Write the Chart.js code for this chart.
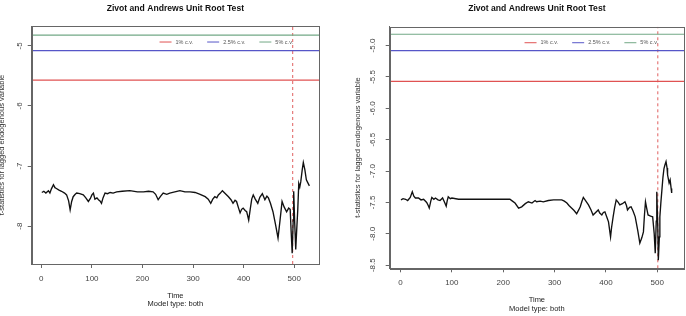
<!DOCTYPE html>
<html>
<head>
<meta charset="utf-8">
<script src="https://cdn.jsdelivr.net/npm/chart.js@4.4.1/dist/chart.umd.min.js"></script>
<style>
  html, body { margin: 0; padding: 0; background: #fff; }
  .panel { position: absolute; top: 0; width: 343px; height: 316px; }
</style>
</head>
<body>
<div class="panel" style="left:0"><canvas id="chartLeft" width="343" height="316"></canvas></div>
<div class="panel" style="left:343px"><canvas id="chartRight" width="343" height="316"></canvas></div>
<script>
// t-statistics
const leftTime = [1, 5, 9, 14, 17, 20, 24, 27, 29, 35, 40, 46, 50, 54, 57, 60, 63, 67, 70, 76,
  83, 88, 93, 97, 100, 103, 106, 110, 113, 116, 119, 122, 126, 131, 136, 142, 149, 160, 175, 190,
  202, 212, 221, 226, 231, 236, 241, 248, 254, 264, 274, 284, 294, 304, 314, 324, 330, 335, 339, 343,
  347, 350, 354, 358, 364, 370, 375, 379, 383, 386, 390, 393, 396, 399, 403, 406, 410, 413, 416, 419,
  423, 428, 432, 437, 440, 442, 446, 449, 453, 458, 463, 468, 472, 476, 480, 485, 489, 492, 494, 496,
  498, 499, 501, 503, 505, 507, 509, 511, 513, 516, 518, 521, 524, 527, 530];
const leftStat = [-7.44, -7.42, -7.45, -7.41, -7.45, -7.38, -7.31, -7.36, -7.37, -7.40, -7.42, -7.45, -7.48, -7.58, -7.73, -7.59, -7.51, -7.47, -7.45, -7.46,
  -7.48, -7.53, -7.59, -7.54, -7.48, -7.45, -7.55, -7.53, -7.56, -7.58, -7.62, -7.53, -7.45, -7.46, -7.44, -7.45, -7.43, -7.42, -7.41, -7.43,
  -7.43, -7.42, -7.43, -7.47, -7.56, -7.50, -7.45, -7.47, -7.45, -7.43, -7.41, -7.43, -7.43, -7.44, -7.47, -7.51, -7.55, -7.62, -7.55, -7.51,
  -7.53, -7.48, -7.45, -7.41, -7.46, -7.51, -7.56, -7.62, -7.57, -7.59, -7.70, -7.78, -7.72, -7.70, -7.74, -7.76, -7.90, -7.72, -7.55, -7.48,
  -7.55, -7.62, -7.52, -7.46, -7.52, -7.56, -7.50, -7.53, -7.62, -7.76, -7.97, -8.20, -7.90, -7.59, -7.68, -7.76, -7.70, -7.72, -8.10, -8.45,
  -7.90, -7.42, -7.95, -8.39, -8.05, -7.73, -7.29, -7.35, -7.26, -7.05, -6.94, -7.06, -7.23, -7.28, -7.33];

const rightTime = [1, 5, 10, 14, 19, 23, 26, 29, 35, 40, 45, 51, 54, 56, 59, 61, 65, 68, 73, 77,
  82, 86, 89, 91, 93, 97, 100, 113, 140, 165, 190, 204, 213, 218, 223, 230, 236, 243, 249, 256,
  262, 265, 272, 278, 288, 298, 314, 319, 324, 328, 333, 338, 343, 347, 350, 353, 356, 361, 366, 371,
  375, 380, 385, 388, 392, 395, 398, 402, 405, 409, 411, 414, 417, 420, 424, 427, 432, 437, 440, 442,
  446, 449, 453, 457, 462, 466, 470, 473, 475, 477, 480, 482, 487, 491, 494, 496, 498, 499, 501, 502,
  504, 505, 507, 509, 511, 513, 515, 517, 519, 520, 523, 525, 527, 528];
const rightStat = [-7.46, -7.44, -7.45, -7.47, -7.42, -7.33, -7.40, -7.43, -7.43, -7.46, -7.45, -7.50, -7.55, -7.59, -7.48, -7.42, -7.45, -7.43, -7.46, -7.47,
  -7.43, -7.50, -7.56, -7.47, -7.41, -7.44, -7.43, -7.45, -7.45, -7.45, -7.45, -7.45, -7.45, -7.48, -7.51, -7.59, -7.57, -7.52, -7.49, -7.51,
  -7.47, -7.49, -7.48, -7.49, -7.47, -7.46, -7.46, -7.48, -7.51, -7.55, -7.59, -7.63, -7.68, -7.62, -7.57, -7.49, -7.42, -7.48, -7.54, -7.62,
  -7.70, -7.66, -7.62, -7.67, -7.70, -7.66, -7.65, -7.74, -7.81, -8.05, -7.90, -7.73, -7.58, -7.46, -7.50, -7.54, -7.52, -7.49, -7.55, -7.62,
  -7.58, -7.57, -7.64, -7.73, -7.95, -8.15, -8.06, -7.97, -7.70, -7.49, -7.62, -7.70, -7.72, -7.73, -8.00, -8.31, -7.80, -7.33, -7.90, -8.42,
  -8.05, -7.73, -7.50, -7.30, -7.10, -6.96, -6.90, -6.85, -6.95, -7.06, -7.19, -7.14, -7.28, -7.35];

const cvLabels = ['1% c.v.', '2.5% c.v.', '5% c.v.'];
const cvValues = [-5.57, -5.08, -4.82];
const xTicks = [0, 100, 200, 300, 400, 500];
const leftYTicks = [-8, -7, -6, -5];
const rightYTicks = [-8.5, -8, -7.5, -7, -6.5, -6, -5.5, -5];
const leftBreak = 497;
const rightBreak = 501;

const cvColors = ['#e05252', '#5656c8', '#72a886'];
const font = 'Liberation Sans, Arial, Helvetica, sans-serif';

const plotBox = {
  id: 'plotBox',
  afterDraw(chart) {
    const a = chart.chartArea, c = chart.ctx;
    c.save();
    c.strokeStyle = '#666';
    c.lineWidth = 1;
    c.strokeRect(Math.round(a.left) + 0.5, Math.round(a.top) + 0.5,
      Math.round(a.right - a.left), Math.round(a.bottom - a.top));
    c.restore();
  }
};

// R style horizontal legend drawn inside the plot, top right
const cvLegend = {
  id: 'cvLegend',
  afterDraw(chart) {
    const a = chart.chartArea, c = chart.ctx;
    const items = chart.data.datasets.filter(d => d.inLegend);
    c.save();
    c.font = '5.5px ' + font;
    c.textBaseline = 'middle';
    const widths = items.map(d => c.measureText(d.label).width);
    const total = widths.reduce((s, w) => s + w, 0) + items.length * 16 + (items.length - 1) * 14;
    let x = a.right - 26 - total;
    const y = a.top + 16;
    items.forEach((d, i) => {
      c.strokeStyle = d.borderColor;
      c.lineWidth = 1;
      c.beginPath();
      c.moveTo(x, y);
      c.lineTo(x + 12, y);
      c.stroke();
      c.fillStyle = '#555';
      c.fillText(d.label, x + 16, y);
      x += 16 + widths[i] + 14;
    });
    c.restore();
  }
};

function makePanel(id, p) {
  const datasets = [{
    label: 'stat',
    data: p.time.map((t, i) => ({ x: t, y: p.stat[i] })),
    borderColor: '#111',
    borderWidth: 1.35
  }];
  cvValues.forEach((v, i) => {
    datasets.push({
      label: cvLabels[i],
      inLegend: true,
      data: [{ x: p.xMin, y: v }, { x: p.xMax, y: v }],
      borderColor: cvColors[i],
      borderWidth: 1.2
    });
  });
  datasets.push({
    label: 'break',
    data: [{ x: p.bp, y: p.yMin }, { x: p.bp, y: p.yMax }],
    borderColor: '#e06060',
    borderWidth: 1,
    borderDash: [3, 3]
  });

  return new Chart(document.getElementById(id), {
    type: 'scatter',
    data: { datasets: datasets },
    options: {
      responsive: false,
      animation: false,
      events: [],
      datasets: { scatter: { showLine: true, pointRadius: 0, tension: 0 } },
      layout: { padding: { left: 0, right: p.padRight, top: 0, bottom: 0 } },
      plugins: {
        legend: { display: false },
        tooltip: { enabled: false },
        title: {
          display: true,
          fullSize: false,
          text: 'Zivot and Andrews Unit Root Test',
          color: '#111',
          font: { family: font, size: 8.6, weight: 'bold' },
          padding: { top: p.titleTop, bottom: p.titleBottom }
        }
      },
      scales: {
        x: {
          type: 'linear',
          min: p.xMin,
          max: p.xMax,
          afterBuildTicks: s => { s.ticks = xTicks.map(v => ({ value: v })); },
          afterFit: s => { s.height = p.xHeight; },
          grid: { display: true, drawOnChartArea: false, drawTicks: true, tickLength: 4, color: '#666' },
          border: { display: true, color: '#666' },
          ticks: { color: '#444', padding: p.xTickPad, maxRotation: 0, font: { family: font, size: 8 } },
          title: {
            display: true,
            text: ['Time', 'Model type: both'],
            color: '#222',
            font: { family: font, size: 7.5, lineHeight: p.xTitleLH },
            padding: { top: 0, bottom: p.xTitleBottom }
          }
        },
        y: {
          min: p.yMin,
          max: p.yMax,
          afterBuildTicks: s => { s.ticks = p.yTicks.map(v => ({ value: v })); },
          afterFit: s => { s.width = p.yWidth; },
          grid: { display: true, drawOnChartArea: false, drawTicks: true, tickLength: 4, color: '#666' },
          border: { display: true, color: '#666' },
          ticks: {
            color: '#444',
            minRotation: 90,
            maxRotation: 90,
            crossAlign: 'center',
            padding: p.yTickPad,
            font: { family: font, size: 8 },
            callback: v => p.yFmt(v)
          },
          title: {
            display: true,
            text: 't-statistics for lagged endogenous variable',
            color: '#333',
            font: { family: font, size: 7.5 },
            padding: { top: p.yTitlePad, bottom: 0 }
          }
        }
      }
    },
    plugins: [plotBox, cvLegend]
  });
}

makePanel('chartLeft', {
  time: leftTime, stat: leftStat, yTicks: leftYTicks, yFmt: v => String(v),
  xMin: -19, xMax: 549, yMin: -8.63, yMax: -4.67, bp: leftBreak,
  padRight: 24, titleTop: 3.1, titleBottom: 12.6,
  xHeight: 52, xTickPad: 5.5, xTitleLH: 1.07, xTitleBottom: 8,
  yWidth: 31.7, yTickPad: 4.6, yTitlePad: -3
});

makePanel('chartRight', {
  time: rightTime, stat: rightStat, yTicks: rightYTicks, yFmt: v => v.toFixed(1),
  xMin: -21, xMax: 552, yMin: -8.55, yMax: -4.70, bp: rightBreak,
  padRight: 2, titleTop: 3.8, titleBottom: 12.6,
  xHeight: 47.7, xTickPad: 5.2, xTitleLH: 1.2, xTitleBottom: 2.5,
  yWidth: 46.7, yTickPad: 6.5, yTitlePad: 10.5
});
</script>
</body>
</html>
